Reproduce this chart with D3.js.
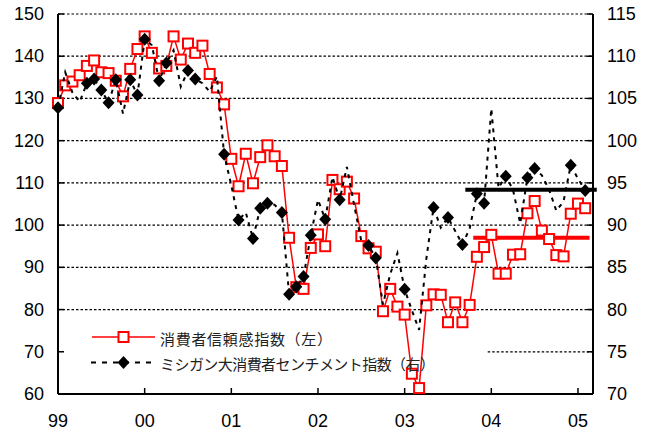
<!DOCTYPE html>
<html>
<head>
<meta charset="utf-8">
<script src="https://cdn.jsdelivr.net/npm/d3@7"></script>
<style>
  body { margin: 0; background: #fff; }
  svg { display: block; }
</style>
</head>
<body>
<div id="chart"></div>
<script>
// monthly, Jan 1999 .. Feb 2005
const confidence = [
  128.9, 133.1, 134.0, 135.5, 137.7, 139.0, 136.2, 136.0, 134.2, 130.5, 137.0, 141.7,
  144.7, 140.8, 137.1, 137.7, 144.7, 139.2, 143.0, 140.8, 142.5, 135.8, 132.6, 128.6,
  115.7, 109.2, 116.9, 109.9, 116.1, 118.9, 116.3, 114.0, 97.0, 85.3, 84.9, 94.6,
  97.8, 95.0, 110.7, 108.5, 110.3, 106.3, 97.4, 94.5, 93.7, 79.6, 84.9, 80.7,
  78.8, 64.8, 61.4, 81.0, 83.6, 83.5, 77.0, 81.7, 77.0, 81.1, 92.5, 94.8,
  97.7, 88.5, 88.5, 93.0, 93.1, 102.8, 105.7, 98.7, 96.7, 92.9, 92.6, 102.7,
  105.1, 104.0
];
const sentiment = [
  103.9, 108.1, 105.7, 104.6, 106.8, 107.3, 106.0, 104.5, 107.2, 103.2, 107.2, 105.4,
  112.0, 111.3, 107.1, 109.2, 110.7, 106.4, 108.3, 107.3, 106.8, 105.8, 107.6, 98.4,
  94.7, 90.6, 91.5, 88.4, 92.0, 92.6, 92.4, 91.5, 81.8, 82.7, 83.9, 88.8,
  93.0, 90.7, 95.7, 93.0, 96.9, 92.4, 88.1, 87.6, 86.1, 80.6, 84.2, 86.7,
  82.4, 79.9, 77.6, 86.0, 92.1, 89.7, 90.9, 89.3, 87.7, 89.6, 93.7, 92.6,
  103.8, 94.4, 95.8, 94.2, 90.2, 95.6, 96.7, 95.9, 94.2, 91.7, 92.8, 97.1,
  95.5, 94.1
];
// months where the sentiment series shows a diamond marker
const diamondMonths = [0, 4, 5, 6, 7, 8, 10, 11, 12, 14, 15, 18, 19, 23, 25, 27, 28, 29,
  31, 32, 33, 34, 35, 37, 39, 43, 44, 48, 52, 54, 56, 58, 59, 62, 65, 66, 71, 73];

const yearLabels = ["99", "00", "01", "02", "03", "04", "05"];
const leftTicks = [60, 70, 80, 90, 100, 110, 120, 130, 140, 150];
const rightTicks = [70, 75, 80, 85, 90, 95, 100, 105, 110, 115];

// 2004 average levels (month span given as month index)
const avgConfidence = { value: 97.0, from: 57.5, to: 73.6 };
const avgSentiment = { value: 94.2, from: 56.4, to: 74.6 };

const legendNames = ["消費者信頼感指数（左）", "ミシガン大消費者センチメント指数（右）"];

const W = 655, H = 435;
const margin = { top: 14, right: 62, bottom: 41, left: 58 };
const width = W - margin.left - margin.right,
      height = H - margin.top - margin.bottom;

const svg = d3.select("#chart").append("svg")
  .attr("width", W).attr("height", H);
const g = svg.append("g")
  .attr("transform", "translate(" + margin.left + "," + margin.top + ")");

const x = d3.scaleLinear().domain([0, 74.08]).range([0, width]);
const yL = d3.scaleLinear().domain([60, 150]).range([height, 0]);
const yR = d3.scaleLinear().domain([70, 115]).range([height, 0]);

const numFont = "'Liberation Sans', Arial, sans-serif";
const jpFont = "'Noto Sans CJK JP', sans-serif";

// gridlines
g.append("g").selectAll("line")
  .data(leftTicks.filter(d => d > 60))
  .enter().append("line")
    .attr("x1", d => d === 70 ? x(59.5) : 0)
    .attr("x2", width)
    .attr("y1", d => yL(d)).attr("y2", d => yL(d))
    .attr("stroke", "#000")
    .attr("stroke-width", 1.2)
    .attr("stroke-dasharray", "2.5,2");

// axis tick marks (inward)
g.append("g").selectAll("line").data(leftTicks).enter().append("line")
  .attr("x1", 0).attr("x2", 6)
  .attr("y1", d => yL(d)).attr("y2", d => yL(d))
  .attr("stroke", "#000").attr("stroke-width", 1.5);
g.append("g").selectAll("line").data(rightTicks).enter().append("line")
  .attr("x1", width - 6).attr("x2", width)
  .attr("y1", d => yR(d)).attr("y2", d => yR(d))
  .attr("stroke", "#000").attr("stroke-width", 1.5);
g.append("g").selectAll("line").data(yearLabels).enter().append("line")
  .attr("x1", (d, i) => x(i * 12)).attr("x2", (d, i) => x(i * 12))
  .attr("y1", height - 6).attr("y2", height)
  .attr("stroke", "#000").attr("stroke-width", 1.5);

// axis lines
g.append("line").attr("x1", 0).attr("x2", 0).attr("y1", 0).attr("y2", height)
  .attr("stroke", "#000").attr("stroke-width", 2);
g.append("line").attr("x1", width).attr("x2", width).attr("y1", 0).attr("y2", height)
  .attr("stroke", "#000").attr("stroke-width", 2);
g.append("line").attr("x1", 0).attr("x2", width).attr("y1", height).attr("y2", height)
  .attr("stroke", "#000").attr("stroke-width", 2);

// axis labels
g.append("g").selectAll("text").data(leftTicks).enter().append("text")
  .attr("x", -14).attr("y", d => yL(d))
  .attr("text-anchor", "end").attr("dominant-baseline", "central")
  .style("font-family", numFont).style("font-size", "18px")
  .text(d => d);
g.append("g").selectAll("text").data(rightTicks).enter().append("text")
  .attr("x", width + 14).attr("y", d => yR(d))
  .attr("text-anchor", "start").attr("dominant-baseline", "central")
  .style("font-family", numFont).style("font-size", "18px")
  .text(d => d);
g.append("g").selectAll("text").data(yearLabels).enter().append("text")
  .attr("x", (d, i) => x(i * 12)).attr("y", height + 27)
  .attr("text-anchor", "middle").attr("dominant-baseline", "central")
  .style("font-family", numFont).style("font-size", "18px")
  .text(d => d);

// average lines
g.append("line")
  .attr("x1", x(avgSentiment.from)).attr("x2", x(avgSentiment.to))
  .attr("y1", yR(avgSentiment.value)).attr("y2", yR(avgSentiment.value))
  .attr("stroke", "#000").attr("stroke-width", 4);
g.append("line")
  .attr("x1", x(avgConfidence.from)).attr("x2", x(avgConfidence.to))
  .attr("y1", yL(avgConfidence.value)).attr("y2", yL(avgConfidence.value))
  .attr("stroke", "#ff0000").attr("stroke-width", 4);

// consumer confidence (left axis)
const lineL = d3.line().x((d, i) => x(i)).y(d => yL(d));
g.append("path").datum(confidence)
  .attr("d", lineL).attr("fill", "none")
  .attr("stroke", "#ff0000").attr("stroke-width", 1.5);
g.append("g").selectAll("rect").data(confidence).enter().append("rect")
  .attr("x", (d, i) => x(i) - 5).attr("y", d => yL(d) - 5)
  .attr("width", 10).attr("height", 10)
  .attr("fill", "#fff").attr("stroke", "#ff0000").attr("stroke-width", 2);

// sentiment (right axis)
const lineR = d3.line().x((d, i) => x(i)).y(d => yR(d));
g.append("path").datum(sentiment)
  .attr("d", lineR).attr("fill", "none")
  .attr("stroke", "#000").attr("stroke-width", 2)
  .attr("stroke-dasharray", "4,5");
const diamond = "M0,-6.5L6,0L0,6.5L-6,0Z";
g.append("g").selectAll("path").data(diamondMonths).enter().append("path")
  .attr("d", diamond)
  .attr("transform", d => "translate(" + x(d) + "," + yR(sentiment[d]) + ")")
  .attr("fill", "#000");

// legend
const lg = svg.append("g");
const ly = [337, 362.5];
lg.append("line").attr("x1", 92).attr("x2", 155).attr("y1", ly[0]).attr("y2", ly[0])
  .attr("stroke", "#ff0000").attr("stroke-width", 1.5);
lg.append("rect").attr("x", 118.5).attr("y", ly[0] - 5).attr("width", 10).attr("height", 10)
  .attr("fill", "#fff").attr("stroke", "#ff0000").attr("stroke-width", 2);
lg.append("line").attr("x1", 91).attr("x2", 157).attr("y1", ly[1]).attr("y2", ly[1])
  .attr("stroke", "#000").attr("stroke-width", 2).attr("stroke-dasharray", "5,6");
lg.append("path").attr("d", diamond)
  .attr("transform", "translate(123.5," + ly[1] + ")").attr("fill", "#000");
lg.selectAll("text").data(legendNames).enter().append("text")
  .attr("x", 160).attr("y", (d, i) => ly[i] + 1)
  .attr("dominant-baseline", "central")
  .attr("textLength", (d, i) => i === 0 ? 172 : 275)
  .style("font-family", jpFont).style("font-size", "15px").style("fill", "#222")
  .text(d => d);
</script>
</body>
</html>
